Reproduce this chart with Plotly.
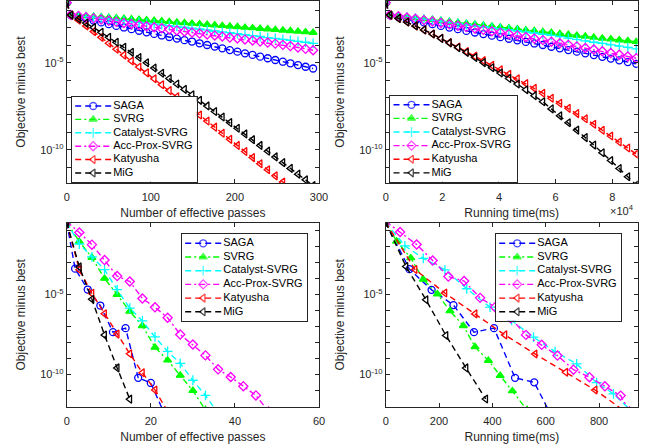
import plotly.graph_objects as go

# ---------------- data (log10 of objective minus best) ----------------
names = ["SAGA", "SVRG", "Catalyst-SVRG", "Acc-Prox-SVRG", "Katyusha", "MiG"]

# Top-left: number of effective passes
tl_passes = [0, 5, 14, 23, 32, 41, 50, 59, 68, 77, 86, 95, 104, 113, 122, 131, 140,
             149, 158, 167, 176, 185, 194, 203, 212, 221, 230, 239, 248, 257, 266,
             275, 284, 293]
tl_saga = [-1.55, -2.26, -2.36, -2.46, -2.57, -2.68, -2.78, -2.88, -2.97, -3.07, -3.16,
           -3.25, -3.34, -3.43, -3.52, -3.61, -3.70, -3.78, -3.88, -3.98, -4.07, -4.17,
           -4.27, -4.36, -4.46, -4.55, -4.65, -4.74, -4.84, -4.94, -5.03, -5.13, -5.23, -5.33]
tl_svrg = [-1.55, -2.25, -2.28, -2.31, -2.34, -2.37, -2.40, -2.43, -2.46, -2.49, -2.52,
           -2.55, -2.58, -2.61, -2.64, -2.68, -2.71, -2.74, -2.77, -2.80, -2.84, -2.87,
           -2.90, -2.93, -2.97, -3.00, -3.03, -3.06, -3.10, -3.13, -3.16, -3.19, -3.23, -3.26]
tl_catalyst = [-1.55, -2.25, -2.30, -2.35, -2.39, -2.44, -2.48, -2.53, -2.58, -2.62, -2.67,
               -2.72, -2.76, -2.81, -2.86, -2.91, -2.96, -3.01, -3.06, -3.11, -3.17, -3.22,
               -3.27, -3.33, -3.38, -3.44, -3.49, -3.55, -3.60, -3.66, -3.71, -3.77, -3.82, -3.88]
tl_accprox = [-1.55, -2.25, -2.31, -2.38, -2.45, -2.52, -2.59, -2.65, -2.71, -2.77, -2.83,
              -2.90, -2.96, -3.02, -3.08, -3.14, -3.20, -3.26, -3.32, -3.37, -3.43, -3.49,
              -3.55, -3.60, -3.66, -3.72, -3.78, -3.84, -3.90, -3.97, -4.04, -4.12, -4.20, -4.28]
tl_katyusha = [-1.55, -2.26, -2.56, -2.88, -3.21, -3.54, -3.88, -4.22, -4.56, -4.90, -5.24,
               -5.58, -5.92, -6.26, -6.60, -6.95, -7.30, -7.65, -8.00, -8.35, -8.70, -9.05,
               -9.40, -9.75, -10.10, -10.45, -10.80, -11.15, -11.50, -11.85, -12.20]
tl_mig = [-1.55, -2.26, -2.48, -2.72, -2.98, -3.25, -3.53, -3.82, -4.11, -4.40, -4.70,
          -5.00, -5.30, -5.60, -5.91, -6.22, -6.53, -6.84, -7.16, -7.48, -7.80, -8.12,
          -8.44, -8.76, -9.09, -9.42, -9.75, -10.08, -10.41, -10.74, -11.07, -11.40, -11.73, -12.06]

# Top-right: running time (units of 1e4 ms)
tr_time = [0, 0.15, 0.45, 0.75, 1.05, 1.35, 1.65, 1.95, 2.25, 2.55, 2.85, 3.15, 3.45,
           3.75, 4.05, 4.35, 4.65, 4.95, 5.25, 5.55, 5.85, 6.15, 6.45, 6.75, 7.05, 7.35,
           7.65, 7.95, 8.25, 8.55, 8.85]
tr_saga = [-1.55, -2.26, -2.37, -2.48, -2.58, -2.68, -2.78, -2.88, -2.98, -3.07, -3.17,
           -3.26, -3.35, -3.44, -3.53, -3.62, -3.71, -3.80, -3.89, -3.98, -4.08, -4.17,
           -4.27, -4.36, -4.46, -4.56, -4.66, -4.76, -4.86, -4.96, -5.06]
tr_svrg = [-1.55, -2.26, -2.31, -2.37, -2.42, -2.47, -2.52, -2.58, -2.63, -2.69, -2.74,
           -2.79, -2.85, -2.90, -2.96, -3.01, -3.06, -3.12, -3.17, -3.22, -3.27, -3.33,
           -3.38, -3.43, -3.48, -3.54, -3.59, -3.64, -3.69, -3.74, -3.79]
tr_catalyst = [-1.55, -2.26, -2.32, -2.38, -2.44, -2.50, -2.56, -2.62, -2.68, -2.74, -2.80,
               -2.86, -2.92, -2.98, -3.04, -3.10, -3.16, -3.23, -3.29, -3.36, -3.42, -3.50,
               -3.58, -3.66, -3.74, -3.82, -3.89, -3.97, -4.04, -4.12, -4.20]
tr_accprox = [-1.55, -2.26, -2.33, -2.40, -2.47, -2.55, -2.63, -2.71, -2.79, -2.87, -2.95,
              -3.03, -3.11, -3.19, -3.27, -3.35, -3.43, -3.52, -3.61, -3.70, -3.79, -3.88,
              -3.97, -4.06, -4.15, -4.24, -4.34, -4.44, -4.54, -4.64, -4.74]
tr_katyusha = [-1.55, -2.26, -2.45, -2.66, -2.88, -3.11, -3.35, -3.59, -3.84, -4.10, -4.36,
               -4.62, -4.88, -5.14, -5.40, -5.66, -5.92, -6.19, -6.47, -6.75, -7.04, -7.33,
               -7.62, -7.92, -8.22, -8.53, -8.88, -9.21, -9.55, -9.90, -10.25]
tr_mig = [-1.55, -2.26, -2.45, -2.66, -2.88, -3.11, -3.35, -3.60, -3.86, -4.13, -4.41,
          -4.70, -4.99, -5.29, -5.59, -5.90, -6.22, -6.55, -6.89, -7.24, -7.65, -8.05,
          -8.45, -8.87, -9.30, -9.73, -10.17, -10.62, -11.08, -11.55, -12.03]

# Bottom-left: number of effective passes
bl_saga_x = [0, 2, 5, 8, 11, 14, 17, 20, 23]
bl_saga = [-0.5, -3.39, -4.69, -5.69, -7.35, -7.10, -10.20, -10.52, -12.30]
bl_svrg_x = [0, 3, 6, 9, 12, 15, 18, 21, 24, 27, 30, 33]
bl_svrg = [-0.5, -1.70, -2.70, -4.00, -5.00, -6.05, -6.95, -8.30, -9.10, -10.05, -11.00, -12.20]
bl_catalyst_x = [0, 3, 6, 9, 12, 15, 18, 21, 24, 27, 30, 33, 36]
bl_catalyst = [-0.5, -1.85, -2.65, -3.45, -4.70, -5.85, -6.65, -7.65, -8.55, -9.30, -10.35,
               -11.30, -12.40]
bl_accprox_x = [0, 3, 6, 9, 12, 15, 18, 21, 24, 27, 30, 33, 36, 39, 42, 45, 48]
bl_accprox = [-0.45, -1.13, -1.89, -2.85, -3.85, -4.19, -5.25, -5.80, -6.45, -7.50, -8.12,
              -8.80, -9.67, -10.15, -10.72, -11.30, -12.30]
bl_katyusha_x = [0, 3, 6, 9, 12, 15, 18, 21, 24]
bl_katyusha = [-0.5, -3.45, -4.93, -6.20, -7.47, -8.70, -9.88, -10.96, -12.30]
bl_mig_x = [0, 3, 6, 9, 12, 15]
bl_mig = [-0.5, -3.28, -5.30, -7.53, -9.58, -11.53]

# Bottom-right: running time (ms)
br_saga_x = [0, 89, 172, 254, 331, 406, 485, 557, 613]
br_saga = [-0.5, -3.42, -4.71, -5.66, -7.35, -7.10, -10.20, -10.48, -12.30]
br_svrg_x = [0, 41, 94, 141, 194, 241, 291, 335, 385, 429, 475, 530]
br_svrg = [-0.5, -1.68, -2.72, -4.06, -4.97, -6.02, -6.95, -8.27, -9.12, -10.06, -11.02, -12.20]
br_catalyst_x = [0, 72, 141, 222, 304, 391, 472, 554, 635, 716, 791, 854, 930]
br_catalyst = [-0.5, -1.96, -2.74, -3.46, -4.64, -5.79, -6.62, -7.66, -8.56, -9.33, -10.50,
               -11.20, -12.40]
br_accprox_x = [0, 54, 116, 176, 235, 294, 354, 410, 469, 526, 585, 644, 704, 764, 822, 881, 914]
br_accprox = [-0.45, -1.10, -1.88, -2.88, -3.88, -4.16, -5.21, -5.79, -6.48, -7.52, -8.14,
              -8.81, -9.69, -10.16, -10.73, -11.31, -12.30]
br_katyusha_x = [0, 110, 222, 335, 447, 560, 675, 785, 898]
br_katyusha = [-0.5, -3.44, -4.91, -6.21, -7.52, -8.71, -9.85, -10.96, -12.30]
br_mig_x = [0, 76, 151, 226, 301, 375]
br_mig = [-0.5, -3.25, -5.33, -7.56, -9.58, -11.52]

# ---------------- styles ----------------
styles = {
    "SAGA": dict(color="#0000FF", dash="6px,4px", symbol="circle-open"),
    "SVRG": dict(color="#00FF00", dash="6px,3px,2px,3px", symbol="triangle-up"),
    "Catalyst-SVRG": dict(color="#00FFFF", dash="6px,4px", symbol="cross-thin-open"),
    "Acc-Prox-SVRG": dict(color="#FF00FF", dash="6px,3px,2px,3px", symbol="diamond-open"),
    "Katyusha": dict(color="#FF0000", dash="6px,4px", symbol="triangle-left-open"),
    "MiG": dict(color="#000000", dash="6px,4px", symbol="triangle-left-open"),
}

W, H = 650, 448
font = "Liberation Sans, Arial, sans-serif"
axcol = "#262626"

def xd(a, b):
    return [a / W, b / W]

def yd(top, bottom):
    return [1 - bottom / H, 1 - top / H]

# panel legend boxes (pixels: left, top, right, bottom)
panels = [
    dict(xa="x", ya="y", leg=(71.7, 96.7, 196.7, 181.7),
         series=[(tl_passes, tl_saga), (tl_passes, tl_svrg), (tl_passes, tl_catalyst),
                 (tl_passes, tl_accprox), (tl_passes[:len(tl_katyusha)], tl_katyusha),
                 (tl_passes, tl_mig)]),
    dict(xa="x2", ya="y2", leg=(390, 95.5, 516.7, 181.7),
         series=[(tr_time, tr_saga), (tr_time, tr_svrg), (tr_time, tr_catalyst),
                 (tr_time, tr_accprox), (tr_time, tr_katyusha), (tr_time, tr_mig)]),
    dict(xa="x3", ya="y3", leg=(181.7, 234, 306.7, 320.7),
         series=[(bl_saga_x, bl_saga), (bl_svrg_x, bl_svrg), (bl_catalyst_x, bl_catalyst),
                 (bl_accprox_x, bl_accprox), (bl_katyusha_x, bl_katyusha), (bl_mig_x, bl_mig)]),
    dict(xa="x4", ya="y4", leg=(495.7, 234, 620.7, 320.7),
         series=[(br_saga_x, br_saga), (br_svrg_x, br_svrg), (br_catalyst_x, br_catalyst),
                 (br_accprox_x, br_accprox), (br_katyusha_x, br_katyusha), (br_mig_x, br_mig)]),
]

fig = go.Figure()

def marker_for(name, size):
    st = styles[name]
    return dict(symbol=st["symbol"], size=size, color=st["color"],
                line=dict(color=st["color"], width=1.3))

for p in panels:
    for name, (xs, ys) in zip(names, p["series"]):
        st = styles[name]
        fig.add_trace(go.Scatter(
            x=xs, y=[10 ** v for v in ys], name=name, mode="lines+markers",
            xaxis=p["xa"], yaxis=p["ya"], showlegend=False,
            line=dict(color=st["color"], width=1.4, dash=st["dash"]),
            marker=marker_for(name, 7),
        ))

# compact MATLAB-style legend boxes, drawn in their own small axes (pixel units)
for i, p in enumerate(panels):
    k = 5 + i
    xa, ya = "x%d" % k, "y%d" % k
    l, t, r, b = p["leg"]
    w, h = r - l, b - t
    step = (h - 10) / 5.6
    for j, name in enumerate(names):
        st = styles[name]
        yy = 9.3 + j * step
        fig.add_trace(go.Scatter(
            x=[3.5, 21.5, 39.5], y=[yy, yy, yy], mode="lines+markers", xaxis=xa, yaxis=ya,
            showlegend=False, hoverinfo="skip",
            line=dict(color=st["color"], width=1.4, dash=st["dash"]),
            marker=dict(marker_for(name, 7), size=[0, 7, 0]),
        ))
        fig.add_trace(go.Scatter(
            x=[41.5], y=[yy], mode="text", text=[name], textposition="middle right",
            xaxis=xa, yaxis=ya, showlegend=False, hoverinfo="skip",
            textfont=dict(family=font, size=11, color="#000000"),
        ))

common = dict(showline=True, linecolor=axcol, linewidth=1, mirror="ticks", ticks="inside",
              ticklen=4, tickcolor=axcol, showgrid=False, zeroline=False, automargin=False,
              tickfont=dict(family=font, size=11, color=axcol))

minor_decades = [10.0 ** k for k in range(-12, 0) if k not in (-5, -10)]

def yaxis(dom, rng, anchor):
    return dict(common, domain=dom, type="log", range=rng, anchor=anchor,
                tickvals=[1e-10, 1e-5], ticktext=["10<sup>-10</sup>", "10<sup>-5</sup>"],
                minor=dict(tickmode="array", tickvals=minor_decades, ticks="inside",
                           ticklen=4, tickcolor=axcol, showgrid=False),
                title=dict(text="Objective minus best",
                           font=dict(family=font, size=12, color=axcol), standoff=11))

def xaxis(dom, rng, ticks, anchor, title):
    return dict(common, domain=dom, range=rng, tickvals=ticks, anchor=anchor,
                ticklabelstandoff=4,
                title=dict(text=title, font=dict(family=font, size=12, color=axcol), standoff=6))

layout = dict(
    width=W, height=H, margin=dict(l=0, r=0, t=0, b=0),
    paper_bgcolor="white", plot_bgcolor="white",
    xaxis=xaxis(xd(66.7, 319), [0, 300], [0, 100, 200, 300], "y", "Number of effective passes"),
    yaxis=yaxis(yd(1, 183), [-11.91, -1.45], "x"),
    xaxis2=xaxis(xd(385.7, 637.7), [0, 8.9], [0, 2, 4, 6, 8], "y2", "Running time(ms)"),
    yaxis2=yaxis(yd(1, 183), [-11.91, -1.45], "x2"),
    xaxis3=xaxis(xd(66.7, 319), [0, 60], [0, 20, 40, 60], "y3", "Number of effective passes"),
    yaxis3=yaxis(yd(222.7, 407), [-12.02, -0.52], "x3"),
    xaxis4=xaxis(xd(385.7, 638), [0, 946], [0, 200, 400, 600, 800], "y4", "Running time(ms)"),
    yaxis4=yaxis(yd(222.7, 407), [-12.02, -0.52], "x4"),
    annotations=[dict(text="×10<sup>4</sup>", x=636 / W, y=1 - 210 / H, xref="paper",
                      yref="paper", xanchor="right", yanchor="middle", showarrow=False,
                      font=dict(family=font, size=11, color=axcol))],
)
for i, p in enumerate(panels):
    k = 5 + i
    l, t, r, b = p["leg"]
    box = dict(showline=True, linecolor=axcol, linewidth=1, mirror=True, ticks="",
               showticklabels=False, showgrid=False, zeroline=False, fixedrange=True,
               automargin=False)
    layout["xaxis%d" % k] = dict(box, domain=xd(l, r), range=[0, r - l], anchor="y%d" % k)
    layout["yaxis%d" % k] = dict(box, domain=yd(t, b), range=[b - t, 0], anchor="x%d" % k)

fig.update_layout(**layout)
fig.write_html("out.html", config={"displayModeBar": False},
               post_script="document.body.style.margin='0px';")
